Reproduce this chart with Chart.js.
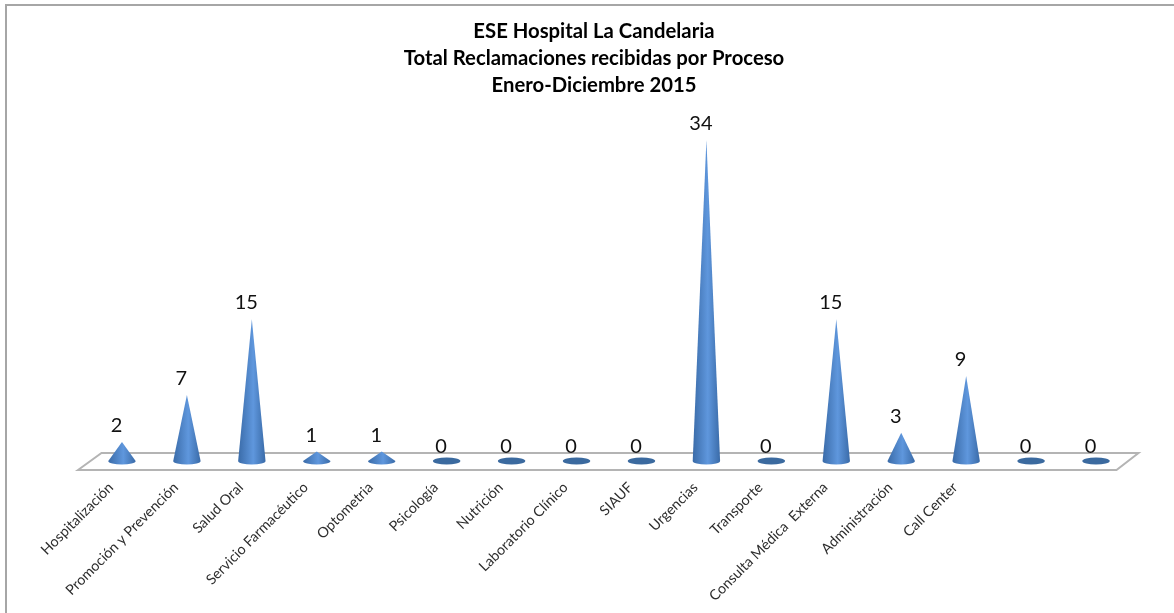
<!DOCTYPE html>
<html>
<head>
<meta charset="utf-8">
<title>Reclamaciones</title>
<script src="https://cdn.jsdelivr.net/npm/chart.js@4"></script>
<style>
html, body { margin: 0; padding: 0; background: #fff; }
canvas { display: block; }
</style>
</head>
<body>
<canvas id="coneChart" width="1174" height="613"></canvas>
<script>
var categories = ['Hospitalización', 'Promoción y Prevención', 'Salud Oral', 'Servicio Farmacéutico', 'Optometria', 'Psicología', 'Nutrición', 'Laboratorio Clínico', 'SIAUF', 'Urgencias', 'Transporte', 'Consulta Médica  Externa', 'Administración', 'Call Center', '', ''];
var reclamaciones = [2, 7, 15, 1, 1, 0, 0, 0, 0, 34, 0, 15, 3, 9, 0, 0];
var titleLines = ['ESE Hospital La Candelaria', 'Total Reclamaciones recibidas por Proceso', 'Enero-Diciembre 2015'];

var coneRx = 13.7;
var coneRy = 3.6;

// frame lines of the pasted picture and the 3d floor under the cones
var floorPlugin = {
    id: 'floor',
    beforeDatasetsDraw: function (chart) {
        var c = chart.ctx, a = chart.chartArea;
        c.save();
        c.strokeStyle = '#a6a6a6';
        c.lineWidth = 2;
        c.beginPath();
        c.moveTo(6, 613);
        c.lineTo(6, 5);
        c.lineTo(1174, 5);
        c.stroke();
        c.strokeStyle = '#b4b4b4';
        c.beginPath();
        c.moveTo(a.left - 11.5, a.bottom + 9);
        c.lineTo(a.left + 12, a.bottom - 8);
        c.lineTo(a.right + 10, a.bottom - 8);
        c.lineTo(a.right - 12, a.bottom + 9);
        c.closePath();
        c.stroke();
        c.restore();
    }
};

var conePlugin = {
    id: 'cones',
    afterDatasetsDraw: function (chart) {
        var c = chart.ctx;
        var bars = chart.getDatasetMeta(0).data;
        c.save();
        for (var i = 0; i < bars.length; i++) {
            var x = bars[i].x, tip = bars[i].y, base = bars[i].base;
            var g = c.createLinearGradient(x - coneRx, 0, x + coneRx, 0);
            g.addColorStop(0, '#3a6ba8');
            g.addColorStop(0.55, '#5f97dd');
            g.addColorStop(1, '#3a6ba8');
            c.beginPath();
            if (reclamaciones[i] === 0) {
                c.fillStyle = '#3b6a9f';
                c.ellipse(x, base, coneRx, coneRy, 0, 0, Math.PI * 2);
            } else {
                c.fillStyle = g;
                c.moveTo(x, tip);
                c.lineTo(x - coneRx, base);
                c.ellipse(x, base, coneRx, coneRy, 0, Math.PI, 0, true);
                c.closePath();
            }
            c.fill();
            // value above the tip, excel puts it a bit to the left
            c.fillStyle = '#111';
            c.font = '20px Lato';
            c.textAlign = 'center';
            c.textBaseline = 'middle';
            c.fillText(reclamaciones[i], x - 5.5, tip - (reclamaciones[i] === 0 ? 14.5 : 16.5));
        }
        c.restore();
    }
};

var myChart = new Chart(document.getElementById('coneChart').getContext('2d'), {
    type: 'bar',
    data: {
        labels: categories,
        datasets: [{
            data: reclamaciones,
            backgroundColor: 'rgba(0, 0, 0, 0)',
            borderWidth: 0
        }]
    },
    options: {
        responsive: false,
        animation: false,
        devicePixelRatio: 1,
        layout: { padding: { left: 14, right: 0, top: 0, bottom: 0 } },
        plugins: {
            legend: { display: false },
            tooltip: { enabled: false },
            title: {
                display: true,
                text: titleLines,
                color: '#000',
                font: { family: 'Lato', size: 20.3, weight: 'bold', lineHeight: 1.33 },
                padding: { top: 18, bottom: 5 }
            }
        },
        scales: {
            x: {
                grid: { display: false },
                border: { display: false },
                afterFit: function (scale) {
                    scale.height = 152;
                    scale.paddingLeft = 0;
                    scale.paddingRight = 0;
                },
                ticks: {
                    autoSkip: false,
                    minRotation: 45,
                    maxRotation: 45,
                    padding: 10,
                    labelOffset: -11,
                    color: '#2e2e2e',
                    font: { family: 'Lato', size: 14.3 }
                }
            },
            y: {
                min: 0,
                max: 37.8,
                grid: { display: false },
                border: { display: false },
                ticks: { display: false },
                afterFit: function (scale) { scale.width = 75.5; }
            },
            yRight: {
                position: 'right',
                min: 0,
                max: 37.8,
                grid: { display: false },
                border: { display: false },
                ticks: { display: false },
                afterFit: function (scale) { scale.width = 45.5; }
            }
        }
    },
    plugins: [floorPlugin, conePlugin]
});
</script>
</body>
</html>
